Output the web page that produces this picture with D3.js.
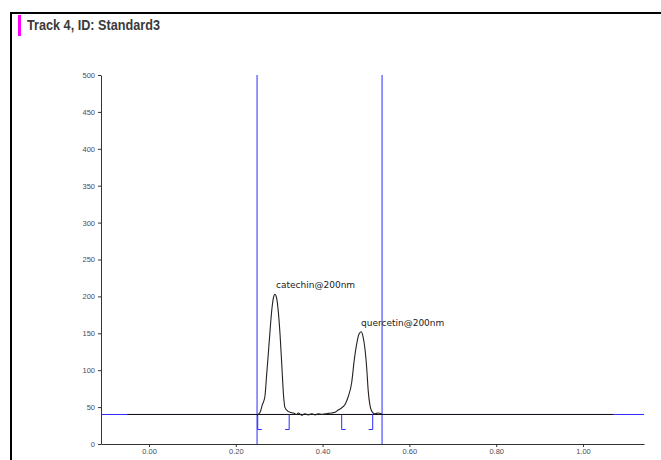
<!DOCTYPE html>
<html>
<head>
<meta charset="utf-8">
<script src="https://cdn.jsdelivr.net/npm/d3@7"></script>
<style>
  body { margin: 0; background: #fff; }
  svg { display: block; }
</style>
</head>
<body>
<div id="graph"></div>
<script>
/* chromatogram data: retention (Rf) and signal */
const rt = [0.249, 0.256, 0.261, 0.267, 0.271, 0.275, 0.279, 0.283, 0.287, 0.290, 0.294, 0.298, 0.302, 0.306,
  0.310, 0.313, 0.319, 0.325, 0.333, 0.340, 0.344, 0.352, 0.359, 0.367, 0.375, 0.383, 0.390, 0.398, 0.406,
  0.413, 0.421, 0.429, 0.436, 0.444, 0.452, 0.459, 0.467, 0.473, 0.479, 0.484, 0.489, 0.493, 0.498, 0.502,
  0.505, 0.509, 0.515, 0.521, 0.528, 0.536];
const signal = [39, 43, 53, 64, 93, 123, 154, 182, 199, 203, 198, 179, 148, 107,
  66, 50, 45, 43, 42, 40, 42, 39, 41, 39.5, 41, 39.5, 41, 40, 41,
  41.5, 42, 43, 46, 49, 54, 64, 83, 114, 137, 149, 152, 146, 127, 100,
  73, 53, 43, 41, 42, 41];

const peakNames = ["catechin@200nm", "quercetin@200nm"];
const peakRt = [0.2905, 0.4885];
const peakVal = [203, 152];

const windowLines = [0.249, 0.537];   // blue vertical limits
const baselineVal = 40;
const integStarts = [0.2505, 0.444];
const integEnds = [0.323, 0.5155];

const yTicks = [0, 50, 100, 150, 200, 250, 300, 350, 400, 450, 500];
const xTicks = [0, 0.2, 0.4, 0.6, 0.8, 1.0];

function main() {
    const W = 661, H = 460;
    const blue = "#2b2bff";
    const svg = d3.select("#graph").append("svg").attr("width", W).attr("height", H);

    /* frame */
    svg.append("line").attr("x1", 10).attr("x2", W).attr("y1", 13).attr("y2", 13)
        .attr("stroke", "#000").attr("stroke-width", 2);
    svg.append("line").attr("x1", 11).attr("x2", 11).attr("y1", 12).attr("y2", H)
        .attr("stroke", "#000").attr("stroke-width", 2);

    /* title */
    svg.append("rect").attr("x", 18).attr("y", 15).attr("width", 3).attr("height", 21).attr("fill", "#ff00ff");
    svg.append("text").attr("x", 27).attr("y", 30)
        .style("font-family", "'Liberation Sans', Arial, sans-serif")
        .style("font-size", "15px").style("font-weight", "bold").attr("fill", "#3a3a3a")
        .attr("textLength", 133).attr("lengthAdjust", "spacingAndGlyphs")
        .text("Track 4, ID: Standard3");

    /* scales */
    const x = d3.scaleLinear().domain([-0.1106, 1.1406]).range([101, 644]);
    const y = d3.scaleLinear().domain([0, 500]).range([444, 75]);

    /* axes */
    const xAxis = d3.axisBottom(x).tickValues(xTicks).tickFormat(d3.format(".2f")).tickSize(3).tickSizeOuter(0);
    const gx = svg.append("g").attr("transform", "translate(0,444)").call(xAxis);
    const yAxis = d3.axisLeft(y).tickValues(yTicks).tickSize(3).tickSizeOuter(0);
    const gy = svg.append("g").attr("transform", "translate(101,0)").call(yAxis);
    [gx, gy].forEach(g => {
        g.selectAll(".domain").attr("stroke", "#333");
        g.selectAll(".tick line").attr("stroke", "#333");
        g.selectAll("text").style("font-family", "'Liberation Sans', Arial, sans-serif")
            .style("font-size", "7.5px").attr("fill", "#4a4a55");
    });
    gx.selectAll("text").attr("y", 5);

    /* blue window + baseline */
    svg.selectAll(".win").data(windowLines).enter().append("line")
        .attr("x1", d => x(d)).attr("x2", d => x(d)).attr("y1", y(500)).attr("y2", y(0))
        .attr("stroke", blue).attr("stroke-width", 1);
    svg.append("line").attr("x1", x.range()[0]).attr("x2", x.range()[1])
        .attr("y1", y(baselineVal)).attr("y2", y(baselineVal)).attr("stroke", blue).attr("stroke-width", 1);
    svg.append("line").attr("x1", x(-0.05)).attr("x2", x(1.07))
        .attr("y1", y(baselineVal)).attr("y2", y(baselineVal)).attr("stroke", "#111").attr("stroke-width", 1);

    /* integration brackets */
    const yb = y(baselineVal), yd = yb + 15;
    integStarts.forEach(d => {
        svg.append("path").attr("d", `M${x(d)},${yb}V${yd}H${x(d) + 4}`)
            .attr("fill", "none").attr("stroke", blue);
    });
    integEnds.forEach(d => {
        svg.append("path").attr("d", `M${x(d)},${yb}V${yd}H${x(d) - 4}`)
            .attr("fill", "none").attr("stroke", blue);
    });

    /* signal */
    const pts = rt.map((d, i) => [d, signal[i]]);
    svg.append("path").datum(pts)
        .attr("d", d3.line().x(d => x(d[0])).y(d => y(d[1])).curve(d3.curveMonotoneX))
        .attr("fill", "none").attr("stroke", "#222").attr("stroke-width", 1.1);

    /* peak labels */
    svg.selectAll(".plabel").data(peakNames).enter().append("text")
        .attr("x", (d, i) => x(peakRt[i]) + (i == 0 ? 1 : 0))
        .attr("y", (d, i) => y(peakVal[i]) - 6)
        .style("font-family", "'DejaVu Sans', Verdana, sans-serif").style("font-size", "9px")
        .attr("fill", "#222").text(d => d);
}

main();
</script>
</body>
</html>
